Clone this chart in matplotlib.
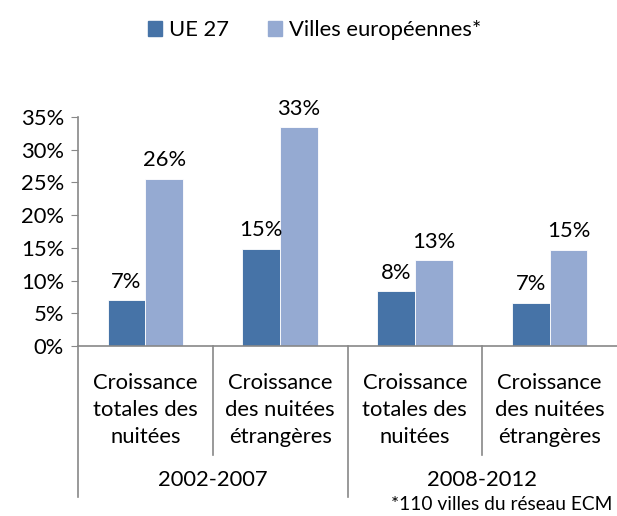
import matplotlib
matplotlib.use('Agg')
import matplotlib.pyplot as plt
import numpy as np
from matplotlib.patches import Patch
from matplotlib.ticker import FuncFormatter

# ---------------------------------------------------------------------------
# DATA
# ---------------------------------------------------------------------------
categories = ['Croissance\ntotales des\nnuitées', 'Croissance\ndes nuitées\nétrangères',
              'Croissance\ntotales des\nnuitées', 'Croissance\ndes nuitées\nétrangères']
periods = ['2002-2007', '2008-2012']
series_names = ['UE 27', 'Villes européennes*']
ue27 = [7.0, 14.9, 8.4, 6.6]
villes = [25.6, 33.4, 13.1, 14.7]
footnote = '*110 villes du réseau ECM'

dark = '#4673A7'
light = '#95AAD2'
axis_col = '#888888'

plt.rcParams['font.family'] = ['Lato', 'DejaVu Sans']
fs = 15.8

fig = plt.figure(figsize=(6.17, 5.16), dpi=100)
ax = fig.add_axes([78 / 617, 170 / 516, 1 - 78 / 617, 229 / 516])

x = np.arange(len(categories))
w = 0.28
b1 = ax.bar(x - w / 2, ue27, w, color=dark, edgecolor='white', linewidth=0.6)
b2 = ax.bar(x + w / 2, villes, w, color=light, edgecolor='white', linewidth=0.6)

for bars in (b1, b2):
    for bar in bars:
        h = bar.get_height()
        ax.annotate(f'{h:.0f}%', xy=(bar.get_x() + bar.get_width() / 2, h),
                    xytext=(0, 6), textcoords='offset points',
                    ha='center', va='bottom', fontsize=fs)

ax.set_xlim(-0.5, len(categories) - 0.5)
ax.set_ylim(0, 35)
ax.set_yticks(np.arange(0, 36, 5))
ax.yaxis.set_major_formatter(FuncFormatter(lambda v, p: f'{v:.0f}%'))
ax.tick_params(axis='y', length=5, color=axis_col, labelsize=fs, pad=5)
ax.set_xticks([])

for s in ['top', 'right']:
    ax.spines[s].set_visible(False)
ax.spines['left'].set_color(axis_col)
ax.spines['bottom'].set_color(axis_col)
ax.spines['left'].set_linewidth(1.2)
ax.spines['bottom'].set_linewidth(1.2)

# multi-level category axis
trans = ax.get_xaxis_transform()
ax.plot([-0.5, -0.5], [0, -0.66], transform=trans, color=axis_col, lw=1.2, clip_on=False)
for xb, yb in [(0.5, -0.476), (1.5, -0.66), (2.5, -0.476)]:
    ax.plot([xb, xb], [0, yb], transform=trans, color=axis_col, lw=1.2, clip_on=False)

for i, c in enumerate(categories):
    ax.text(i, -0.279, c, transform=trans, ha='center', va='center',
            fontsize=fs, linespacing=1.45)
for j, p in enumerate(periods):
    ax.text(2 * j + 0.5, -0.585, p, transform=trans, ha='center', va='center', fontsize=fs)

fig.text(612 / 617, 1 - 505 / 516, footnote, ha='right', va='center', fontsize=fs - 2)

handles = [Patch(color=dark), Patch(color=light)]
fig.legend(handles, series_names, loc='center', bbox_to_anchor=(0.51, 1 - 30 / 516),
           ncol=2, frameon=False, fontsize=fs, handlelength=0.65, handleheight=0.65,
           handletextpad=0.3, columnspacing=1.8)

fig.savefig('out.png', dpi=100, facecolor='white')
